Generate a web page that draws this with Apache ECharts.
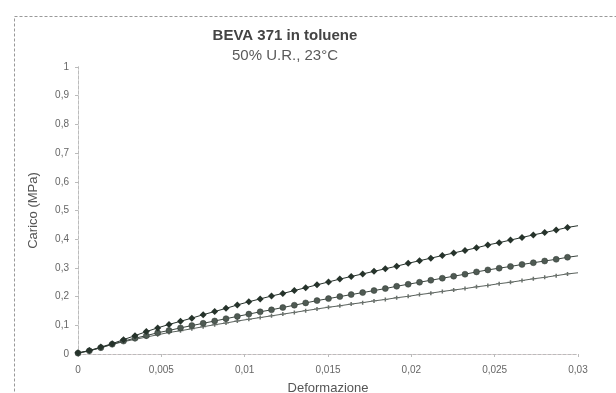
<!DOCTYPE html>
<html><head><meta charset="utf-8">
<script src="https://cdn.jsdelivr.net/npm/echarts@6/dist/echarts.min.js"></script>
<style>html,body{margin:0;padding:0;background:#fff}#c{width:616px;height:393px}</style>
</head><body><div id="c"></div>
<script>
const strain = [0,0.00068,0.00137,0.00205,0.00273,0.00342,0.00410,0.00478,0.00546,0.00615,0.00683,0.00751,0.00820,0.00888,0.00956,0.01025,0.01093,0.01161,0.01229,0.01298,0.01366,0.01434,0.01503,0.01571,0.01639,0.01708,0.01776,0.01844,0.01912,0.01981,0.02049,0.02117,0.02186,0.02254,0.02322,0.02391,0.02459,0.02527,0.02595,0.02664,0.02732,0.02800,0.02869,0.02937,0.03000];
const loadA = [0.004,0.012,0.024,0.036,0.050,0.064,0.078,0.091,0.103,0.114,0.125,0.137,0.148,0.159,0.171,0.182,0.192,0.202,0.211,0.221,0.231,0.241,0.251,0.261,0.270,0.279,0.288,0.297,0.306,0.316,0.325,0.334,0.343,0.352,0.361,0.370,0.380,0.388,0.397,0.406,0.415,0.423,0.432,0.441,0.447];
const loadB = [0.003,0.011,0.022,0.034,0.045,0.055,0.064,0.074,0.082,0.091,0.099,0.107,0.115,0.123,0.131,0.139,0.147,0.154,0.162,0.170,0.178,0.186,0.193,0.200,0.207,0.214,0.221,0.228,0.236,0.243,0.250,0.257,0.264,0.271,0.278,0.286,0.293,0.299,0.305,0.312,0.318,0.324,0.330,0.337,0.342];
const loadC = [0.003,0.011,0.022,0.033,0.043,0.051,0.059,0.067,0.075,0.081,0.088,0.095,0.102,0.108,0.115,0.121,0.127,0.133,0.139,0.145,0.151,0.157,0.163,0.168,0.174,0.179,0.185,0.190,0.196,0.201,0.207,0.212,0.218,0.223,0.228,0.234,0.239,0.245,0.250,0.256,0.262,0.267,0.273,0.279,0.283];
const titleText = 'BEVA 371 in toluene';
const subText = '50% U.R., 23°C';
const xName = 'Deformazione';
const yName = 'Carico (MPa)';

function pts(ys){
  return strain.map((x,i)=> i===strain.length-1 ? {value:[x,ys[i]], symbol:'none'} : [x,ys[i]]);
}
const comma = v => String(+v.toFixed(3)).replace('.', ',');
const plusPath = 'path://M0,4L3,4L3,0L5,0L5,4L8,4L8,6L5,6L5,10L3,10L3,6L0,6Z';
const chart = echarts.init(document.getElementById('c'), null, {renderer:'canvas'});
chart.setOption({
  animation:false,
  backgroundColor:'#fff',
  title:{text:titleText, subtext:subText, left:280, textAlign:'center', top:23, itemGap:5,
    textStyle:{fontFamily:'Liberation Sans', fontSize:15, fontWeight:'bold', color:'#444'},
    subtextStyle:{fontFamily:'Liberation Sans', fontSize:15, color:'#5a5a5a'}},
  graphic:[{type:'rect', shape:{x:14.5,y:16.5,width:640,height:400}, style:{fill:null, stroke:'#999', lineWidth:1, lineDash:[3,2]}, silent:true, z:-1}],
  grid:{left:78, right:38, top:67, bottom:39, containLabel:false, outerBoundsMode:'none'},
  xAxis:[{type:'value', min:0, max:0.03, interval:0.005, name:xName, nameLocation:'middle', nameGap:28,
    nameTextStyle:{fontFamily:'Liberation Sans', fontSize:13, color:'#555'},
    axisLine:{onZero:false, lineStyle:{color:'#d9a9b0', type:[3,2]}},
    axisTick:{show:true, length:3, lineStyle:{color:'#bbb'}},
    axisLabel:{fontFamily:'Liberation Sans', fontSize:10, color:'#666', margin:11, formatter:comma},
    splitLine:{show:false}},
   {type:'value', position:'top', min:0, max:0.03, axisLine:{show:true, lineStyle:{color:'#bbb', type:[3,2]}}, axisTick:{show:false}, axisLabel:{show:false}, splitLine:{show:false}}],
  yAxis:[{type:'value', min:0, max:1, interval:0.1, name:yName, nameLocation:'middle', nameGap:38,
    nameTextStyle:{fontFamily:'Liberation Sans', fontSize:13, color:'#555'},
    axisLine:{show:true, onZero:false, lineStyle:{color:'#bbb', type:[3,2]}},
    axisTick:{show:true, length:3, lineStyle:{color:'#bbb'}},
    axisLabel:{fontFamily:'Liberation Sans', fontSize:10, color:'#666', margin:9, formatter:comma},
    splitLine:{show:false}},
   {type:'value', position:'right', min:0, max:1, axisLine:{show:true, lineStyle:{color:'#bbb', type:[3,2]}}, axisTick:{show:false}, axisLabel:{show:false}, splitLine:{show:false}}],
  series:[
    {type:'line', data:pts(loadC), symbol:plusPath, symbolSize:[6,4], showAllSymbol:true,
      lineStyle:{color:'#5a625d', width:1}, itemStyle:{color:'#6a716c'}, z:2},
    {type:'line', data:pts(loadB), symbol:'circle', symbolSize:6, showAllSymbol:true,
      lineStyle:{color:'#3a443e', width:1}, itemStyle:{color:'#4f5a53', borderColor:'#333d37', borderWidth:0.5}, z:3},
    {type:'line', data:pts(loadA), symbol:'diamond', symbolSize:7, showAllSymbol:true,
      lineStyle:{color:'#26312b', width:1}, itemStyle:{color:'#26332b'}, z:4}
  ]
});
</script></body></html>
